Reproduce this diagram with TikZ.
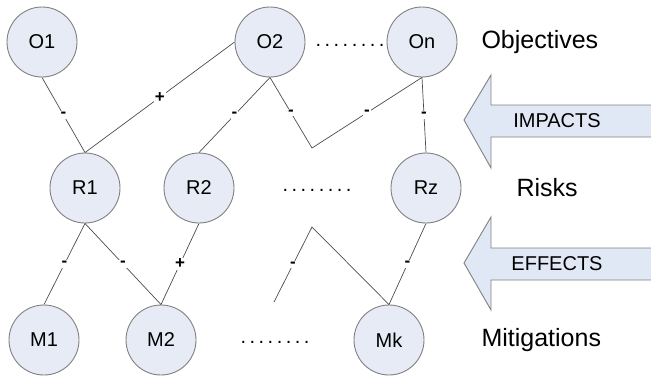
\documentclass[tikz,border=0pt]{standalone}
\usepackage{fontspec}
\setmainfont{Liberation Sans}
\usetikzlibrary{positioning}

\definecolor{nodefill}{RGB}{231,235,246}
\definecolor{arrowfill}{RGB}{224,232,246}
\definecolor{rim}{RGB}{128,128,128}

\newcommand{\etc}{.\kern3.5pt.\kern3.5pt.\kern3.5pt.\kern3.5pt.\kern3.5pt.\kern3.5pt.\kern3.5pt.}

\begin{document}
\begin{tikzpicture}[x=1pt, y=-1pt,
    item/.style={circle, draw=rim, line width=0.9pt, fill=nodefill,
        minimum size=70pt, inner sep=0pt, font=\fontsize{20}{24}\selectfont},
    level/.style={anchor=west, font=\fontsize{25}{30}\selectfont},
    link/.style={draw=black!70, line width=0.7pt},
    sign/.style={fill=white, inner sep=1pt, font=\fontsize{17}{20}\selectfont\bfseries},
    dots/.style={anchor=base west, font=\fontsize{20}{24}\selectfont},
    flow/.style={draw=rim, line width=0.9pt, fill=arrowfill},
    flowtext/.style={font=\fontsize{20}{24}\selectfont}]
	\useasboundingbox (0,0) rectangle (651,376);
	% Objectives
	\node[item]                       (O1) at (42,42) {O1};
	\node[item, on grid, right=228pt of O1] (O2) {O2};
	\node[item, on grid, right=152pt of O2] (On) {On};
	% Risks
	\node[item]                       (R1) at (85,188) {R1};
	\node[item, on grid, right=114pt of R1] (R2) {R2};
	\node[item, on grid, right=227pt of R2] (Rz) {Rz};
	% Mitigations
	\node[item]                       (M1) at (44,340) {M1};
	\node[item, on grid, right=117pt of M1] (M2) {M2};
	\node[item, on grid, right=228pt of M2] (Mk) {Mk};
	% Row names and gaps
	\node[level] (obj) at (478,42) {Objectives};
	\node[level] (rsk) at (513,188) {Risks};
	\node[level] (mit) at (478,340) {Mitigations};
	\node[dots] (gapO) at (312,46) {\etc};
	\node[dots] (gapR) at (279,191) {\etc};
	\node[dots] (gapM) at (237,343) {\etc};
	% Impacts between objectives and risks
	\draw[link] (O1.south) -- node[sign] {-} (R1.north);
	\draw[link] (O2.west) -- node[sign] {+} (R1.north);
	\draw[link] (O2.south) -- node[sign] {-} (R2.north);
	\coordinate (kneeO) at (312,148);
	\draw[link] (O2.south) -- node[sign] {-} (kneeO) -- node[sign] {-} (On.south);
	\draw[link] (On.south) -- node[sign] {-} (Rz.north);
	% Effects between risks and mitigations
	\draw[link] (R1.south) -- node[sign] {-} (M1.north);
	\draw[link] (R1.south) -- node[sign] {-} (M2.north);
	\draw[link] (R2.south) -- node[sign] {+} (M2.north);
	\coordinate (stubM) at (274,302);
	\coordinate (kneeM) at (312,227);
	\draw[link] (stubM) -- node[sign] {-} (kneeM) -- (Mk.north);
	\draw[link] (Rz.south) -- node[sign] {-} (Mk.north);
	% Block arrows
	\draw[flow] (464,120) -- (491,75) -- (491,105) -- (660,105)
		-- (660,137) -- (491,137) -- (491,168) -- cycle;
	\node[flowtext] (imp) at (557,121) {IMPACTS};
	\draw[flow] (464,263) -- (491,217) -- (491,248) -- (660,248)
		-- (660,280) -- (491,280) -- (491,310) -- cycle;
	\node[flowtext] (eff) at (557,264) {EFFECTS};
\end{tikzpicture}
\end{document}
